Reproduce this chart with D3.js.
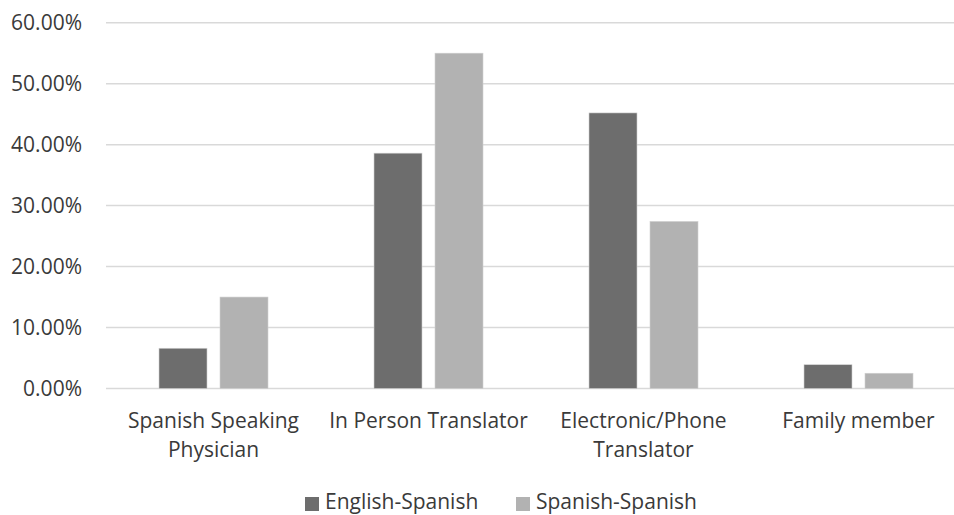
<!DOCTYPE html>
<html>
<head>
<meta charset="utf-8">
<script src="https://cdn.jsdelivr.net/npm/d3@7"></script>
<style>
body{margin:0;background:#fff;}
text{font-family:"Open Sans",sans-serif;fill:#3a3a3a;}
</style>
</head>
<body>
<div id="vis"></div>
<script>
// chart data
var categories = [["Spanish Speaking","Physician"],["In Person Translator"],["Electronic/Phone","Translator"],["Family member"]];
var series = ["English-Spanish","Spanish-Spanish"];
var englishSpanish = [6.6, 38.6, 45.2, 3.9];
var spanishSpanish = [15.0, 55.0, 27.4, 2.5];
var yTicks = [0,10,20,30,40,50,60];
var colors = {"English-Spanish":"#6d6d6d","Spanish-Spanish":"#b2b2b2"};

var values = [englishSpanish, spanishSpanish];

var svg = d3.select("#vis").append("svg").attr("width",954).attr("height",515);

// scales
var x = d3.scaleBand().domain(d3.range(categories.length)).range([106,966]).paddingInner(0).paddingOuter(0);
var y = d3.scaleLinear().domain([0,60]).range([388.5,22.7]);
var inner = d3.scaleBand().domain(series).range([0,109]).paddingInner(13/61);

// gridlines
svg.selectAll("line.grid").data(yTicks).enter().append("line")
    .attr("x1",106).attr("x2",954)
    .attr("y1",(d) => y(d)).attr("y2",(d) => y(d))
    .attr("style","stroke:#d9d9d9;stroke-width:1.5px;");

// y labels
svg.selectAll("text.ylab").data(yTicks).enter().append("text")
    .text((d) => d.toFixed(2)+"%")
    .attr("x",82).attr("y",(d) => y(d)+7.5)
    .attr("style","text-anchor:end;font-size:21px;");

// bars
series.forEach(function(s,si){
    svg.selectAll("rect.s"+si).data(values[si]).enter().append("rect")
        .attr("x",(d,i) => x(i)+53+inner(s))
        .attr("y",(d) => y(d))
        .attr("width",inner.bandwidth())
        .attr("height",(d) => y(0)-y(d))
        .attr("fill",colors[s])
        .attr("stroke","#d0d0d0").attr("stroke-width",0.6);
});

// category labels
categories.forEach(function(c,i){
    c.forEach(function(line,li){
        svg.append("text").text(line)
            .attr("x",x(i)+x.bandwidth()/2)
            .attr("y",428+li*29)
            .attr("style","text-anchor:middle;font-size:21px;");
    });
});

// legend
var legendX = [305,516];
series.forEach(function(s,si){
    svg.append("rect").attr("x",legendX[si]).attr("y",497).attr("width",14).attr("height",14).attr("fill",colors[s]);
    svg.append("text").text(s).attr("x",legendX[si]+20).attr("y",509).attr("style","font-size:21px;");
});
</script>
</body>
</html>
